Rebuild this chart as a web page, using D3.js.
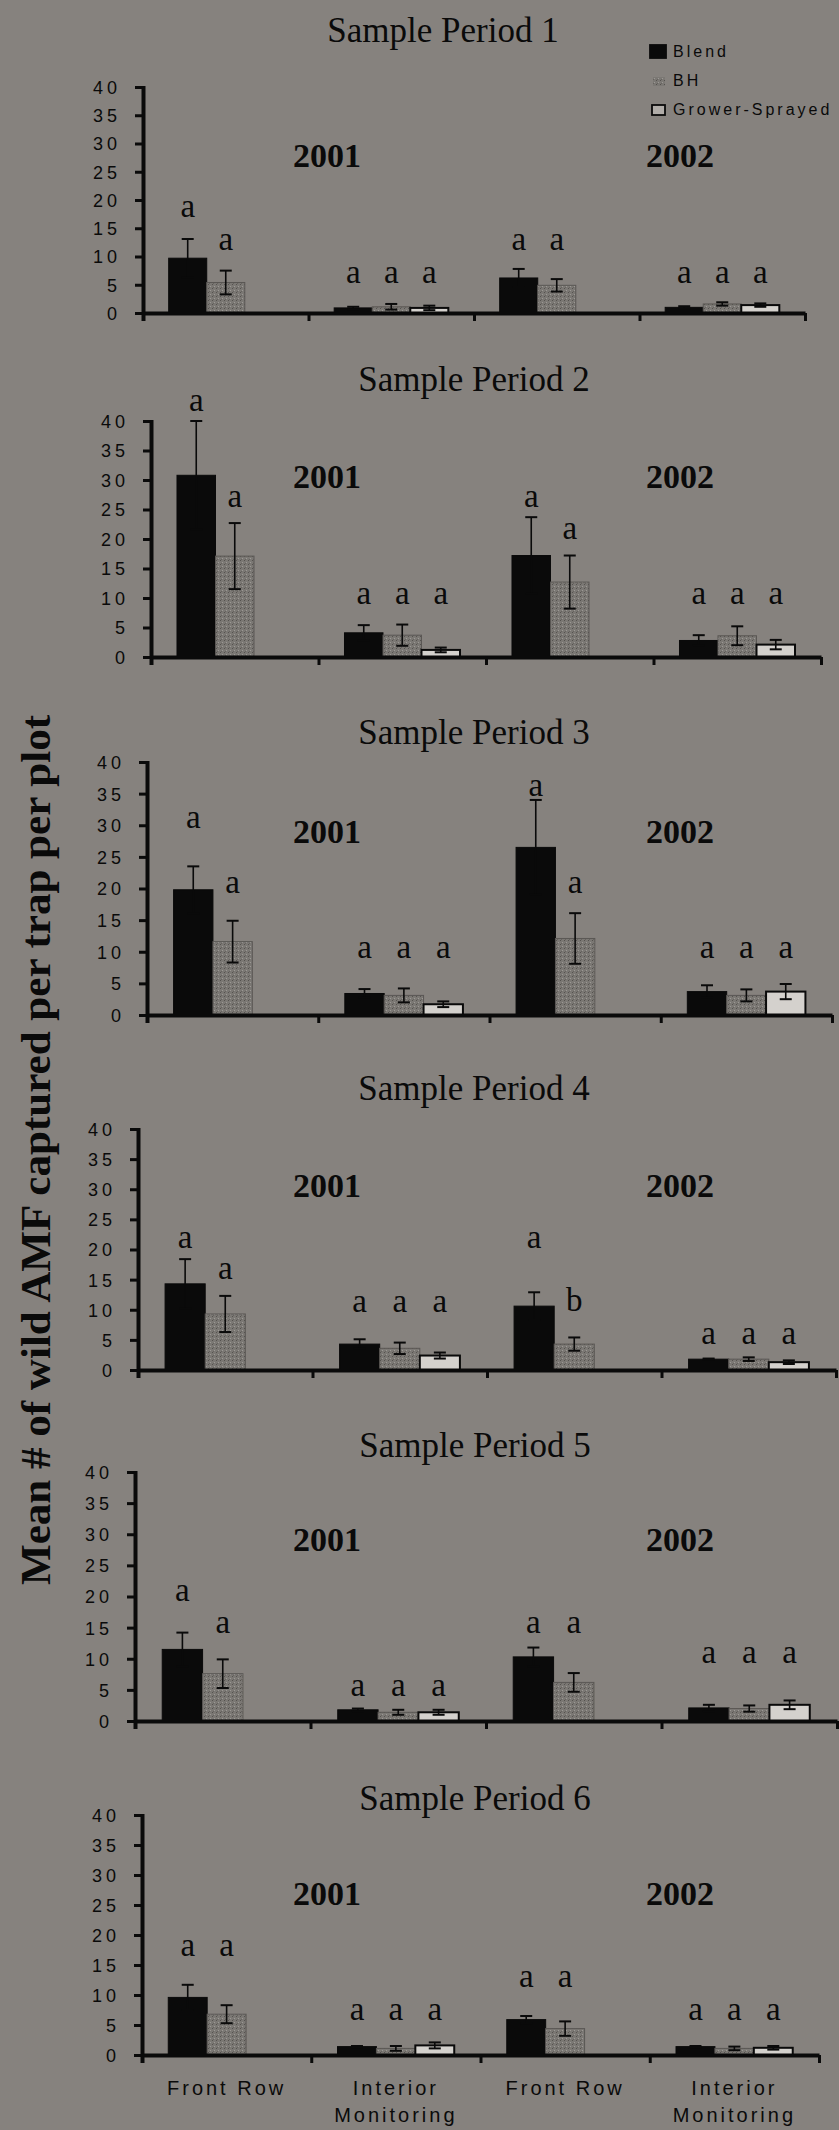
<!DOCTYPE html>
<html><head><meta charset="utf-8">
<script src="https://cdn.jsdelivr.net/npm/d3@7"></script>
<style>
html,body{margin:0;padding:0;background:#86827e;}
svg{display:block;}
</style></head><body>
<svg id="chart" width="839" height="2130"></svg>
<script>
// ---------- DATA ----------
const categories = ["FR2001", "IM2001", "FR2002", "IM2002"];
const categoryLabels = [["Front Row"], ["Interior", "Monitoring"], ["Front Row"], ["Interior", "Monitoring"]];
const years = ["2001", "2002"];
const series = ["Blend", "BH", "Grower-Sprayed"];
const periodTitles = ["Sample Period 1", "Sample Period 2", "Sample Period 3", "Sample Period 4", "Sample Period 5", "Sample Period 6"];
const yTicks = [0, 5, 10, 15, 20, 25, 30, 35, 40];
const yAxisTitle = "Mean # of wild AMF captured per trap per plot";

// means per period, per category
const blendMean = [
  [9.7, 0.9, 6.2, 1.0],
  [30.8, 4.1, 17.2, 2.8],
  [19.8, 3.4, 26.5, 3.7],
  [14.3, 4.3, 10.6, 1.8],
  [11.5, 1.8, 10.3, 2.1],
  [9.6, 1.4, 5.9, 1.4]
];
const blendErr = [
  [3.4, 0.2, 1.6, 0.2],
  [9.2, 1.3, 6.5, 0.9],
  [3.7, 0.7, 7.5, 1.0],
  [4.1, 0.8, 2.3, 0.1],
  [2.7, 0.2, 1.5, 0.5],
  [2.1, 0.1, 0.6, 0.1]
];
const bhMean = [
  [5.4, 1.1, 4.9, 1.6],
  [17.1, 3.7, 12.7, 3.6],
  [11.6, 3.1, 12.1, 3.1],
  [9.3, 3.6, 4.3, 1.8],
  [7.6, 1.4, 6.2, 2.0],
  [6.8, 1.1, 4.4, 1.1]
];
const bhErr = [
  [2.1, 0.5, 1.1, 0.3],
  [5.6, 1.8, 4.5, 1.6],
  [3.3, 1.1, 4.0, 0.95],
  [3.0, 0.95, 1.1, 0.3],
  [2.3, 0.4, 1.5, 0.5],
  [1.5, 0.4, 1.2, 0.3]
];
const gsMean = [
  [null, 0.9, null, 1.4],
  [null, 1.2, null, 2.1],
  [null, 1.7, null, 3.7],
  [null, 2.4, null, 1.3],
  [null, 1.4, null, 2.6],
  [null, 1.6, null, 1.2]
];
const gsErr = [
  [null, 0.4, null, 0.3],
  [null, 0.4, null, 0.8],
  [null, 0.45, null, 1.2],
  [null, 0.5, null, 0.3],
  [null, 0.4, null, 0.7],
  [null, 0.5, null, 0.3]
];
// significance letters
const blendLetters = [
  ["a","a","a","a"],["a","a","a","a"],["a","a","a","a"],["a","a","a","a"],["a","a","a","a"],["a","a","a","a"]
];
const bhLetters = [
  ["a","a","a","a"],["a","a","a","a"],["a","a","a","a"],["a","a","b","a"],["a","a","a","a"],["a","a","a","a"]
];
const gsLetters = [
  [null,"a",null,"a"],[null,"a",null,"a"],[null,"a",null,"a"],[null,"a",null,"a"],[null,"a",null,"a"],[null,"a",null,"a"]
];
// heights (in y-axis units) at which the letters sit
const blendLetterLevel = [
  [18.4, 6.8, 12.5, 6.8],
  [43.0, 10.3, 26.7, 10.3],
  [30.8, 10.3, 35.9, 10.3],
  [21.6, 10.9, 21.6, 5.7],
  [20.6, 5.3, 15.5, 10.6],
  [17.8, 7.2, 12.6, 7.2]
];
const bhLetterLevel = [
  [12.5, 6.8, 12.5, 6.8],
  [26.7, 10.3, 21.4, 10.3],
  [20.6, 10.3, 20.6, 10.3],
  [16.4, 10.9, 11.1, 5.7],
  [15.4, 5.3, 15.5, 10.6],
  [17.8, 7.2, 12.6, 7.2]
];
const gsLetterLevel = [
  [null, 6.8, null, 6.8],
  [null, 10.3, null, 10.3],
  [null, 10.3, null, 10.3],
  [null, 10.9, null, 5.7],
  [null, 5.3, null, 10.6],
  [null, 7.2, null, 7.2]
];

// ---------- LAYOUT (pixels) ----------
const panelLayout = [
  {titleX: 443, titleY: 42,   top: 87,   base: 313,  left: 143, right: 805, yearY: 167},
  {titleX: 474, titleY: 391,  top: 421,  base: 657,  left: 151, right: 821, yearY: 488},
  {titleX: 474, titleY: 744,  top: 762,  base: 1015, left: 147, right: 832, yearY: 843},
  {titleX: 474, titleY: 1100, top: 1129, base: 1370, left: 138, right: 836, yearY: 1197},
  {titleX: 475, titleY: 1457, top: 1472, base: 1721, left: 135, right: 837, yearY: 1551},
  {titleX: 475, titleY: 1810, top: 1815, base: 2055, left: 142, right: 819, yearY: 1905}
];
const yearX = [327, 680];

const BG = "#86827e";
const serif = "'Liberation Serif','Times New Roman',serif";
const sans = "'Liberation Sans',Arial,sans-serif";

const svg = d3.select("#chart");
svg.append("rect").attr("width", 839).attr("height", 2130).attr("fill", BG);

const defs = svg.append("defs");
const pat = defs.append("pattern").attr("id", "bhPat").attr("width", 4).attr("height", 4)
  .attr("patternUnits", "userSpaceOnUse");
pat.append("rect").attr("width", 4).attr("height", 4).attr("fill", "#7b7874");
pat.append("rect").attr("x", 0).attr("y", 0).attr("width", 1).attr("height", 1).attr("fill", "#55524f");
pat.append("rect").attr("x", 2).attr("y", 2).attr("width", 1).attr("height", 1).attr("fill", "#9c9995");
pat.append("rect").attr("x", 1).attr("y", 3).attr("width", 1).attr("height", 1).attr("fill", "#66635f");

const seriesFill = {"Blend": "#0a0a0a", "BH": "url(#bhPat)", "Grower-Sprayed": "#d4d1cd"};
const seriesStroke = {"Blend": "#0a0a0a", "BH": "#5a5754", "Grower-Sprayed": "#0a0a0a"};

const seriesData = {
  "Blend": {mean: blendMean, err: blendErr, letters: blendLetters, level: blendLetterLevel},
  "BH": {mean: bhMean, err: bhErr, letters: bhLetters, level: bhLetterLevel},
  "Grower-Sprayed": {mean: gsMean, err: gsErr, letters: gsLetters, level: gsLetterLevel}
};

periodTitles.forEach((title, p) => {
  const L = panelLayout[p];
  const g = svg.append("g");
  const y = d3.scaleLinear().domain([0, 40]).range([L.base, L.top]);
  const x = d3.scaleBand().domain(categories).range([L.left, L.right]).paddingInner(0).paddingOuter(0);
  const xs = d3.scaleBand().domain(series).range([0, x.bandwidth()]).paddingInner(0).paddingOuter(0.675);
  const xb = d3.scaleLinear().domain([0, categories.length]).range([L.left, L.right]);

  // title
  g.append("text").attr("x", L.titleX).attr("y", L.titleY).attr("text-anchor", "middle")
    .attr("font-family", serif).attr("font-size", 35).attr("fill", "#0a0a0a").text(title);

  // years
  years.forEach((yr, i) => {
    g.append("text").attr("x", yearX[i]).attr("y", L.yearY).attr("text-anchor", "middle")
      .attr("font-family", serif).attr("font-weight", "bold").attr("font-size", 34)
      .attr("fill", "#0a0a0a").text(yr);
  });

  // bars
  series.forEach(s => {
    const sd = seriesData[s];
    categories.forEach((c, i) => {
      const v = sd.mean[p][i];
      if (v == null) return;
      const bx = x(c) + xs(s), bw = xs.bandwidth();
      g.append("rect").attr("x", bx).attr("y", y(v)).attr("width", bw).attr("height", y(0) - y(v))
        .attr("fill", seriesFill[s]).attr("stroke", seriesStroke[s])
        .attr("stroke-width", s === "Grower-Sprayed" ? 2 : 1);
    });
  });

  // error bars
  series.forEach(s => {
    const sd = seriesData[s];
    categories.forEach((c, i) => {
      const v = sd.mean[p][i], e = sd.err[p][i];
      if (v == null || e == null) return;
      const cx = x(c) + xs(s) + xs.bandwidth() / 2;
      const y1 = y(v + e), y2 = y(Math.max(0, v - e));
      g.append("line").attr("x1", cx).attr("x2", cx).attr("y1", y1).attr("y2", y2)
        .attr("stroke", "#0a0a0a").attr("stroke-width", 1.6);
      [y1, y2].forEach(yy => {
        g.append("line").attr("x1", cx - 6).attr("x2", cx + 6).attr("y1", yy).attr("y2", yy)
          .attr("stroke", "#0a0a0a").attr("stroke-width", 2);
      });
    });
  });

  // letters
  series.forEach(s => {
    const sd = seriesData[s];
    categories.forEach((c, i) => {
      const t = sd.letters[p][i], lv = sd.level[p][i];
      if (t == null || lv == null) return;
      const cx = x(c) + xs(s) + xs.bandwidth() / 2;
      g.append("text").attr("x", cx).attr("y", y(lv) + 8).attr("text-anchor", "middle")
        .attr("font-family", serif).attr("font-size", 33).attr("fill", "#0a0a0a").text(t);
    });
  });

  // y axis
  const ya = g.append("g").attr("transform", `translate(${L.left},0)`)
    .call(d3.axisLeft(y).tickValues(yTicks).tickSize(8).tickSizeOuter(0).tickPadding(14));
  ya.select(".domain").attr("stroke", "#0a0a0a").attr("stroke-width", 4)
    .attr("d", `M0.5,${L.top - 1}V${L.base + 8}`);
  ya.selectAll(".tick line").attr("stroke", "#0a0a0a").attr("stroke-width", 3);
  ya.selectAll(".tick text").attr("font-family", sans).attr("font-size", 18)
    .attr("letter-spacing", 4).attr("fill", "#0a0a0a").attr("dy", "0.36em");

  // x axis
  const xa = g.append("g").attr("transform", `translate(0,${L.base})`)
    .call(d3.axisBottom(xb).tickValues(d3.range(categories.length + 1)).tickFormat("").tickSize(8).tickSizeOuter(0));
  xa.select(".domain").attr("stroke", "#0a0a0a").attr("stroke-width", 4);
  xa.selectAll(".tick line").attr("stroke", "#0a0a0a").attr("stroke-width", 3);

  // category labels only on the last panel
  if (p === periodTitles.length - 1) {
    categories.forEach((c, i) => {
      const t = g.append("text").attr("x", x(c) + x.bandwidth() / 2).attr("y", L.base + 40)
        .attr("text-anchor", "middle").attr("font-family", sans).attr("font-size", 20)
        .attr("letter-spacing", 3).attr("fill", "#0a0a0a");
      categoryLabels[i].forEach((line, k) => {
        t.append("tspan").attr("x", x(c) + x.bandwidth() / 2).attr("dy", k === 0 ? 0 : 27).text(line);
      });
    });
  }
});

// legend
const legend = svg.append("g");
const legendRows = [
  {s: "Blend", sq: [650, 45, 16, 13], ty: 57},
  {s: "BH", sq: [653, 77, 12, 9], ty: 86},
  {s: "Grower-Sprayed", sq: [652, 105, 13, 10], ty: 115}
];
legendRows.forEach(r => {
  legend.append("rect").attr("x", r.sq[0]).attr("y", r.sq[1]).attr("width", r.sq[2]).attr("height", r.sq[3])
    .attr("fill", r.s === "Grower-Sprayed" ? "#b0aca8" : seriesFill[r.s])
    .attr("stroke", "#0a0a0a").attr("stroke-width", r.s === "BH" ? 0 : 1.8);
  legend.append("text").attr("x", 673).attr("y", r.ty).attr("font-family", sans).attr("font-size", 16)
    .attr("letter-spacing", 3).attr("fill", "#0a0a0a").text(r.s);
});

// y-axis title
svg.append("text").attr("transform", "translate(50,1150) rotate(-90)")
  .attr("text-anchor", "middle").attr("font-family", serif).attr("font-weight", "bold")
  .attr("font-size", 42).attr("fill", "#0a0a0a")
  .attr("textLength", 870).attr("lengthAdjust", "spacingAndGlyphs")
  .text(yAxisTitle);
</script>
</body></html>
